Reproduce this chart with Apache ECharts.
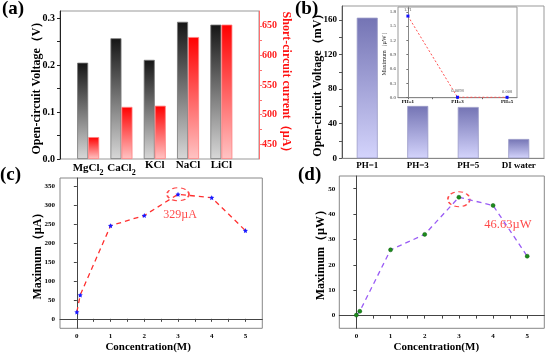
<!DOCTYPE html>
<html><head><meta charset="utf-8">
<script src="https://cdn.jsdelivr.net/npm/echarts@6/dist/echarts.min.js"></script>
<style>html,body{margin:0;padding:0;background:#fff}#c{width:550px;height:354px}</style>
</head><body><div id="c"></div>
<script>
// ---- data ----
const aCategories = ['MgCl2', 'CaCl2', 'KCl', 'NaCl', 'LiCl'];
const aVoltage = [0.205, 0.257, 0.211, 0.292, 0.286];
const aCurrent = [462, 513, 515, 631, 652];
const aLeftLabels = [0, 0.1, 0.2, 0.3];
const aRightLabels = [450, 500, 550, 600, 650];

const bCategories = ['PH=1', 'PH=3', 'PH=5', 'DI water'];
const bVoltage = [162.5, 60.5, 59.3, 22.3];
const bLabels = [0, 40, 80, 120, 160];

const insetCategories = ['PH=1', 'PH=3', 'PH=5'];
const insetPower = [1.71, 0.0098, 0.008];
const insetLabels = [0, 0.3, 0.6, 0.9, 1.2, 1.5, 1.8];

const concentration = [0, 0.1, 1, 2, 3, 4, 5];
const cCurrent = [18, 63, 246, 273, 329, 320, 233];
const dPower = [0.2, 1.7, 25.9, 32.0, 46.63, 43.4, 23.4];
const concLabels = [0, 1, 2, 3, 4, 5];
const cLabels = [0, 50, 100, 150, 200, 250, 300, 350];
const dLabels = [0, 10, 20, 30, 40, 50];

// ---- helpers ----
const F = "'Liberation Serif','Times New Roman',serif";
function halves(arr) { // major ticks plus midpoints
  const out = [];
  for (let i = 0; i < arr.length; i++) {
    out.push(arr[i]);
    if (i < arr.length - 1) out.push((arr[i] + arr[i + 1]) / 2);
  }
  return out;
}
const cPeak = cCurrent.indexOf(Math.max(...cCurrent));
const dPeak = dPower.indexOf(Math.max(...dPower));

function lbl(size, extra) {
  return Object.assign({fontFamily: F, fontWeight: 'bold', fontSize: size, color: '#000'}, extra || {});
}
function nameStyle(size, extra) {
  return Object.assign({fontFamily: F, fontWeight: 'bold', fontSize: size, color: '#000'}, extra || {});
}
function grad(top, bottom) {
  return {type: 'linear', x: 0, y: 0, x2: 0, y2: 1, colorStops: [{offset: 0, color: top}, {offset: 1, color: bottom}]};
}
const axisCol = '#444';

const chart = echarts.init(document.getElementById('c'), null, {renderer: 'canvas'});
const option = {
  animation: false,
  backgroundColor: '#fff',
  title: [
    {text: '(a)', left: 2, top: 0, padding: 0, textStyle: {fontFamily: F, fontWeight: 'bold', fontSize: 19, color: '#000'}},
    {text: '(b)', left: 295, top: 0, padding: 0, textStyle: {fontFamily: F, fontWeight: 'bold', fontSize: 19, color: '#000'}},
    {text: '(c)', left: 0, top: 166, padding: 0, textStyle: {fontFamily: F, fontWeight: 'bold', fontSize: 19, color: '#000'}},
    {text: '(d)', left: 298, top: 166, padding: 0, textStyle: {fontFamily: F, fontWeight: 'bold', fontSize: 19, color: '#000'}}
  ],
  grid: [
    {left: 71.5, width: 166.5, top: 11, height: 148, outerBoundsMode: 'none'},
    {left: 60, width: 199, top: 11, height: 148, show: true, borderColor: '#999', borderWidth: 1, outerBoundsMode: 'none'},
    {left: 342, width: 202, top: 6, height: 152.3, show: true, borderColor: '#999', borderWidth: 1, outerBoundsMode: 'none'},
    {left: 398, width: 119, top: 7, height: 90.7, show: true, backgroundColor: '#fff', borderColor: '#999', borderWidth: 1, outerBoundsMode: 'none'},
    {left: 60, width: 202.3, top: 178, height: 150.3, show: true, borderColor: '#888', borderWidth: 1, outerBoundsMode: 'none'},
    {left: 339.3, width: 205, top: 176, height: 152.3, show: true, borderColor: '#888', borderWidth: 1, outerBoundsMode: 'none'}
  ],
  xAxis: [
    {gridIndex: 0, type: 'category', data: aCategories,
      axisLine: {show: false}, axisTick: {show: false},
      axisLabel: lbl(11, {margin: 1, interval: 0,
        formatter: v => v.replace(/(\d)/, '{sub|$1}'),
        rich: {sub: {fontFamily: F, fontWeight: 'bold', fontSize: 8, color: '#000', verticalAlign: 'bottom', lineHeight: 17}}})},
    {gridIndex: 1, type: 'value', show: false, min: 0, max: 1},
    {gridIndex: 2, type: 'category', data: bCategories,
      axisLine: {lineStyle: {color: '#888'}}, axisTick: {alignWithLabel: true, length: 2, inside: true, lineStyle: {color: '#666'}},
      axisLabel: lbl(9, {margin: 3, interval: 0})},
    {gridIndex: 3, type: 'value', min: -0.2, max: 2.2, splitLine: {show: false},
      axisLine: {lineStyle: {color: '#888'}},
      axisTick: {length: 1.5, customValues: halves([0, 1, 2]), lineStyle: {color: '#666'}},
      axisLabel: lbl(5, {margin: 2, customValues: [0, 1, 2], formatter: v => insetCategories[Math.round(v)]})},
    {gridIndex: 4, type: 'value', min: -0.5, max: 5.5, splitLine: {show: false},
      axisLine: {lineStyle: {color: axisCol}},
      axisTick: {length: 3, customValues: halves(concLabels), lineStyle: {color: axisCol}},
      axisLabel: lbl(7, {margin: 4, customValues: concLabels}),
      name: 'Concentration(M)', nameLocation: 'middle', nameGap: 13, nameMoveOverlap: false,
      nameTextStyle: nameStyle(11, {padding: [0, 26, 0, 0]})},
    {gridIndex: 5, type: 'value', min: -0.5, max: 5.5, splitLine: {show: false},
      axisLine: {lineStyle: {color: axisCol}},
      axisTick: {length: 3, customValues: halves(concLabels), lineStyle: {color: axisCol}},
      axisLabel: lbl(7, {margin: 4, customValues: concLabels}),
      name: 'Concentration(M)', nameLocation: 'middle', nameGap: 13, nameMoveOverlap: false,
      nameTextStyle: nameStyle(11, {padding: [0, 11, 0, 0]})}
  ],
  yAxis: [
    {gridIndex: 0, type: 'value', min: 0, max: 0.315, show: false},
    {gridIndex: 0, type: 'value', min: 425, max: 675, startValue: 425, show: false},
    {gridIndex: 1, type: 'value', position: 'left', min: 0, max: 0.315, splitLine: {show: false},
      axisLine: {show: true, lineStyle: {color: '#222'}},
      axisTick: {show: true, length: 3, customValues: halves(aLeftLabels), lineStyle: {color: '#222'}},
      axisLabel: lbl(10, {margin: 5, customValues: aLeftLabels, formatter: v => v.toFixed(1)}),
      name: 'Open-circuit Voltage（V）', nameLocation: 'middle', nameGap: 17, nameMoveOverlap: false,
      nameTextStyle: nameStyle(12)},
    {gridIndex: 1, type: 'value', position: 'right', min: 425, max: 675, splitLine: {show: false},
      axisLine: {show: true, lineStyle: {color: '#ff7070'}},
      axisTick: {show: true, length: 3, customValues: halves(aRightLabels), lineStyle: {color: '#ff7070'}},
      axisLabel: lbl(10, {margin: 3, color: '#ff2020', customValues: aRightLabels}),
      name: 'Short-circuit current（µA）', nameLocation: 'middle', nameGap: 21, nameRotate: -90, nameMoveOverlap: false,
      nameTextStyle: nameStyle(12, {color: '#ff1010'})},
    {gridIndex: 2, type: 'value', min: 0, max: 176, splitLine: {show: false},
      axisLine: {show: true, lineStyle: {color: '#555'}},
      axisTick: {show: true, length: 3, customValues: halves(bLabels), lineStyle: {color: '#555'}},
      axisLabel: lbl(9, {margin: 5, customValues: bLabels}),
      name: 'Open-circuit Voltage（mV）', nameLocation: 'middle', nameGap: 18, nameMoveOverlap: false,
      nameTextStyle: nameStyle(12)},
    {gridIndex: 3, type: 'value', min: 0, max: 1.9, splitLine: {show: false},
      axisLine: {show: true, lineStyle: {color: '#888'}},
      axisTick: {show: true, length: 1.5, customValues: insetLabels, lineStyle: {color: '#666'}},
      axisLabel: lbl(5, {margin: 2, fontWeight: 'normal', color: '#333', customValues: insetLabels, formatter: v => v.toFixed(1)}),
      name: 'Maximum（µW）', nameLocation: 'middle', nameGap: 11, nameMoveOverlap: false,
      nameTextStyle: nameStyle(6, {fontWeight: 'normal', color: '#222'})},
    {gridIndex: 4, type: 'value', min: -25, max: 372, splitLine: {show: false},
      axisLine: {show: true, lineStyle: {color: axisCol}},
      axisTick: {show: true, length: 3, customValues: cLabels, lineStyle: {color: axisCol}},
      axisLabel: lbl(7, {margin: 5, customValues: cLabels}),
      name: 'Maximum（µA）', nameLocation: 'middle', nameGap: 16, nameMoveOverlap: false,
      nameTextStyle: nameStyle(12)},
    {gridIndex: 5, type: 'value', min: -5, max: 55, splitLine: {show: false},
      axisLine: {show: true, lineStyle: {color: axisCol}},
      axisTick: {show: true, length: 3, customValues: dLabels, lineStyle: {color: axisCol}},
      axisLabel: lbl(7, {margin: 4, customValues: dLabels}),
      name: 'Maximum（µW）', nameLocation: 'middle', nameGap: 12, nameMoveOverlap: false,
      nameTextStyle: nameStyle(12)}
  ],
  series: [
    {type: 'bar', xAxisIndex: 0, yAxisIndex: 0, data: aVoltage, barWidth: 11, barGap: '0%',
      itemStyle: {color: grad('#151515', '#d8d8d8'), borderColor: '#777', borderWidth: 0.8}},
    {type: 'bar', xAxisIndex: 0, yAxisIndex: 1, data: aCurrent, barWidth: 11, barGap: '0%',
      itemStyle: {color: grad('#ff0000', '#ffc4c4'), borderColor: '#ff8080', borderWidth: 0.8}},
    {type: 'bar', xAxisIndex: 2, yAxisIndex: 4, data: bVoltage, barWidth: 21,
      itemStyle: {color: grad('#7474b4', '#d4d4fc'), borderColor: '#9a9ac8', borderWidth: 0.8}},
    {type: 'line', xAxisIndex: 3, yAxisIndex: 5, data: insetPower.map((v, i) => [i, v]),
      symbol: 'rect', symbolSize: 3, itemStyle: {color: '#1010ff'},
      lineStyle: {color: '#ff5050', width: 1, type: [2, 2]},
      label: {show: true, position: 'top', distance: 2, fontSize: 4.5, fontFamily: F, color: '#555', formatter: p => String(p.value[1])}},
    {type: 'line', xAxisIndex: 4, yAxisIndex: 6, data: concentration.map((x, i) => [x, cCurrent[i]]),
      symbol: 'path://M0,-10L2.9,-4L9.5,-3.1L4.7,1.5L5.9,8.1L0,5L-5.9,8.1L-4.7,1.5L-9.5,-3.1L-2.9,-4Z', symbolSize: 5,
      itemStyle: {color: '#1a1aff'},
      lineStyle: {color: '#ff3030', width: 1.3, type: [5, 4]}},
    {type: 'scatter', xAxisIndex: 4, yAxisIndex: 6, silent: true,
      data: [[concentration[cPeak], cCurrent[cPeak]]], symbol: 'circle', symbolSize: [22, 13],
      itemStyle: {color: 'rgba(0,0,0,0)', borderColor: '#ff1a1a', borderWidth: 1.4, borderType: [4, 3]},
      label: {show: true, position: 'inside', offset: [2, 21], fontFamily: F, fontSize: 12, color: '#ff1a1a',
        formatter: () => cCurrent[cPeak] + 'µA'}},
    {type: 'line', xAxisIndex: 5, yAxisIndex: 7, data: concentration.map((x, i) => [x, dPower[i]]),
      symbol: 'circle', symbolSize: 4,
      itemStyle: {color: '#1c8c1c', borderColor: '#0c5c0c', borderWidth: 0.5},
      lineStyle: {color: '#9a5cf5', width: 1.3, type: [5, 4]}},
    {type: 'scatter', xAxisIndex: 5, yAxisIndex: 7, silent: true,
      data: [[concentration[dPeak], dPower[dPeak]]], symbol: 'circle', symbolSize: [22, 15],
      symbolOffset: [0, 2],
      itemStyle: {color: 'rgba(0,0,0,0)', borderColor: '#ff1a1a', borderWidth: 1.4, borderType: [4, 3]},
      label: {show: true, position: 'inside', offset: [49, 25], fontFamily: F, fontSize: 12.5, color: '#ff1a1a',
        formatter: () => dPower[dPeak] + 'µW'}}
  ]
};
chart.setOption(option);
</script></body></html>
